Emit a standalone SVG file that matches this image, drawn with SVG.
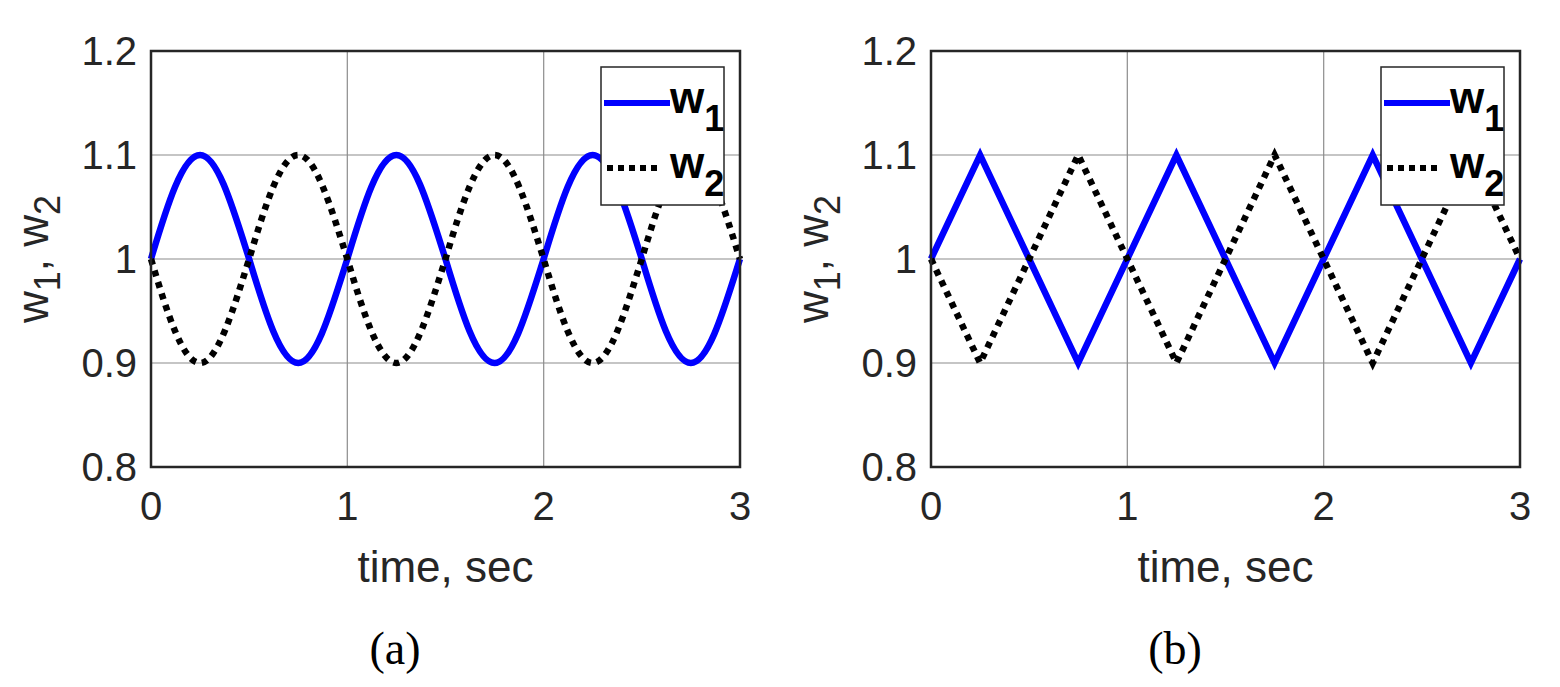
<svg xmlns="http://www.w3.org/2000/svg" width="1560" height="687" viewBox="0 0 1560 687">
<style>
.ax{fill:none;stroke:#262626;stroke-width:2.5}
.gr{stroke:#8c8c8c;stroke-width:1.2}
.tk{font-family:"Liberation Sans",Arial,sans-serif;font-size:40px;fill:#262626}
.lb{font-family:"Liberation Sans",Arial,sans-serif;font-size:44px;fill:#262626}
.cap{font-family:"Liberation Serif","Times New Roman",serif;font-size:46px;fill:#000}
.w1{fill:none;stroke:#0000ff;stroke-width:6.5}
.w2{fill:none;stroke:#000;stroke-width:6.5;stroke-dasharray:6,6}
.lg{fill:#fff;stroke:#262626;stroke-width:1.5}
.lt{font-family:"Liberation Sans",Arial,sans-serif;font-size:44px;font-weight:bold;fill:#000}
</style>
<defs>
<path id="sine" d="M151,259 c16.03,-53.33 31.63,-104 49.08,-104 c17.45,0 33.06,53.33 49.08,104 c16.03,53.33 31.63,104 49.08,104 c17.45,0 33.06,-53.33 49.08,-104 c16.03,-53.33 31.630,-104 49.08,-104 c17.45,0 33.06,53.33 49.08,104 c16.03,53.33 31.63,104 49.08,104 c17.45,0 33.06,-53.33 49.08,-104 c16.03,-53.33 31.63,-104 49.08,-104 c17.45,0 33.06,53.33 49.08,104 c16.03,53.33 31.63,104 49.08,104 c17.45,0 33.06,-53.33 49.08,-104"/>
<path id="tri" d="M931,259 L980.1,155 L1078.2,363 L1176.4,155 L1274.6,363 L1372.7,155 L1470.9,363 L1520,259"/>
</defs>
<g id="plot-a">
<rect x="151" y="51" width="589" height="416" fill="#fff"/>
<g class="gr"><line x1="347.3" y1="51" x2="347.3" y2="467"/><line x1="543.7" y1="51" x2="543.7" y2="467"/><line x1="151" y1="155" x2="740" y2="155"/><line x1="151" y1="259" x2="740" y2="259"/><line x1="151" y1="363" x2="740" y2="363"/></g>
<use href="#sine" class="w1"/>
<use href="#sine" class="w2" transform="translate(0,518) scale(1,-1)"/>
<rect class="ax" x="151" y="51" width="589" height="416"/>
<g class="tk" text-anchor="end"><text x="137" y="65">1.2</text><text x="137" y="169">1.1</text><text x="137" y="273">1</text><text x="137" y="377">0.9</text><text x="137" y="481">0.8</text></g>
<g class="tk" text-anchor="middle"><text x="151" y="520">0</text><text x="347.3" y="520">1</text><text x="543.7" y="520">2</text><text x="740" y="520">3</text></g>
<text class="lb" x="445.5" y="582" text-anchor="middle">time, sec</text>
<text class="lb" transform="translate(48,259) rotate(-90)" text-anchor="middle">w<tspan font-size="36" dy="12">1</tspan><tspan dy="-12">, w</tspan><tspan font-size="36" dy="12">2</tspan></text>
<text class="cap" x="395" y="664" text-anchor="middle">(a)</text>
<g id="legend-a"><rect class="lg" x="601" y="67" width="123" height="138"/>
<line x1="604" y1="103" x2="670" y2="103" stroke="#0000ff" stroke-width="6"/>
<line x1="607" y1="168" x2="662" y2="168" stroke="#000" stroke-width="6" stroke-dasharray="6,5"/>
<text class="lt" x="670" y="113">w<tspan font-size="36" dy="18">1</tspan></text>
<text class="lt" x="670" y="178">w<tspan font-size="36" dy="18">2</tspan></text></g>
</g>
<g id="plot-b" transform="translate(780,0)">
<rect x="151" y="51" width="589" height="416" fill="#fff"/>
<g class="gr"><line x1="347.3" y1="51" x2="347.3" y2="467"/><line x1="543.7" y1="51" x2="543.7" y2="467"/><line x1="151" y1="155" x2="740" y2="155"/><line x1="151" y1="259" x2="740" y2="259"/><line x1="151" y1="363" x2="740" y2="363"/></g>
<use href="#tri" class="w1" transform="translate(-780,0)"/>
<use href="#tri" class="w2" transform="translate(-780,518) scale(1,-1)"/>
<rect class="ax" x="151" y="51" width="589" height="416"/>
<g class="tk" text-anchor="end"><text x="137" y="65">1.2</text><text x="137" y="169">1.1</text><text x="137" y="273">1</text><text x="137" y="377">0.9</text><text x="137" y="481">0.8</text></g>
<g class="tk" text-anchor="middle"><text x="151" y="520">0</text><text x="347.3" y="520">1</text><text x="543.7" y="520">2</text><text x="740" y="520">3</text></g>
<text class="lb" x="445.5" y="582" text-anchor="middle">time, sec</text>
<text class="lb" transform="translate(48,259) rotate(-90)" text-anchor="middle">w<tspan font-size="36" dy="12">1</tspan><tspan dy="-12">, w</tspan><tspan font-size="36" dy="12">2</tspan></text>
<text class="cap" x="395" y="664" text-anchor="middle">(b)</text>
<g id="legend-b"><rect class="lg" x="601" y="67" width="123" height="138"/>
<line x1="604" y1="103" x2="670" y2="103" stroke="#0000ff" stroke-width="6"/>
<line x1="607" y1="168" x2="662" y2="168" stroke="#000" stroke-width="6" stroke-dasharray="6,5"/>
<text class="lt" x="670" y="113">w<tspan font-size="36" dy="18">1</tspan></text>
<text class="lt" x="670" y="178">w<tspan font-size="36" dy="18">2</tspan></text></g>
</g>
</svg>
